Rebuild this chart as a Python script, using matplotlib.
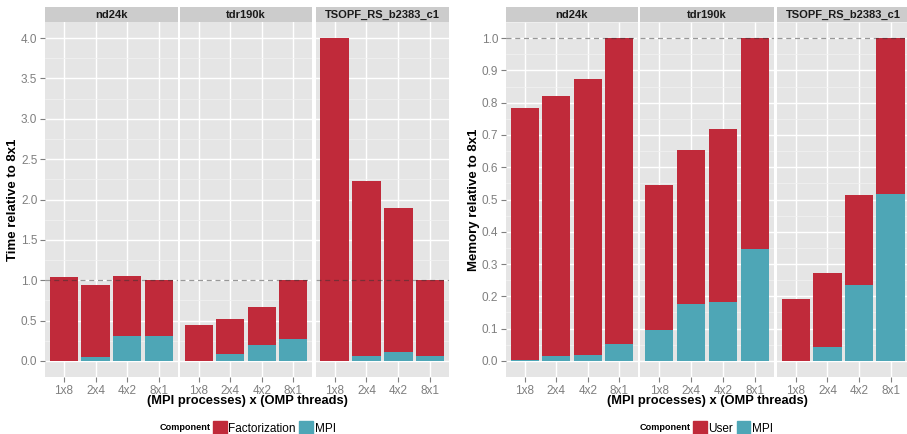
import matplotlib
matplotlib.use("Agg")
import matplotlib.pyplot as plt
from matplotlib.patches import Patch
from matplotlib.ticker import MultipleLocator

plt.rcParams["font.family"] = ["Liberation Sans", "DejaVu Sans"]

# data, one inner list per matrix, bar order = configs
configs = ["1x8", "2x4", "4x2", "8x1"]
matrices = ["nd24k", "tdr190k", "TSOPF_RS_b2383_c1"]

time_mpi = [[0.0, 0.046, 0.31, 0.31],
            [0.0, 0.083, 0.195, 0.27],
            [0.0, 0.058, 0.108, 0.058]]
time_total = [[1.04, 0.94, 1.05, 1.0],
              [0.443, 0.517, 0.666, 1.0],
              [4.0, 2.23, 1.895, 1.0]]

mem_mpi = [[0.002, 0.0146, 0.0177, 0.052],
           [0.095, 0.175, 0.182, 0.346],
           [0.0, 0.042, 0.234, 0.517]]
mem_total = [[0.782, 0.82, 0.872, 1.0],
             [0.544, 0.652, 0.717, 1.0],
             [0.191, 0.271, 0.513, 1.0]]

RED = "#C02A3A"
TEAL = "#4EA6B6"
W, H = 907, 434

fig = plt.figure(figsize=(W / 100, H / 100), dpi=100)


def px_axes(x0, x1, y0, y1):
    return fig.add_axes([x0 / W, 1 - y1 / H, (x1 - x0) / W, (y1 - y0) / H])


def facet_plot(xspans, mpi, total, ylim, major, minor, ylabel, top_label,
               legend_x, ylabel_x):
    panel_top, panel_bot, strip_top = 22, 377, 7
    for i, (x0, x1) in enumerate(xspans):
        ax = px_axes(x0, x1, panel_top, panel_bot)
        ax.set_facecolor("#E5E5E5")
        for s in ax.spines.values():
            s.set_visible(False)
        xs = range(len(configs))
        other = [t - m for t, m in zip(total[i], mpi[i])]
        ax.bar(xs, mpi[i], width=0.9, color=TEAL, zorder=3)
        ax.bar(xs, other, bottom=mpi[i], width=0.9, color=RED, zorder=3)
        ax.axhline(1.0, ls=(0, (4, 3)), color="#333333", alpha=0.5, lw=0.9, zorder=4)
        ax.set_xlim(-0.6, 3.6)
        ax.set_ylim(*ylim)
        ax.set_xticks(list(xs))
        ax.set_xticklabels(configs)
        ax.yaxis.set_major_locator(MultipleLocator(major))
        ax.yaxis.set_minor_locator(MultipleLocator(minor))
        ax.grid(which="major", color="white", lw=1.0, zorder=0)
        ax.grid(which="minor", axis="y", color="#F2F2F2", lw=0.5, zorder=0)
        ax.set_axisbelow(True)
        ax.tick_params(axis="both", which="major", colors="#7F7F7F", labelsize=8.5,
                       length=3.5, width=0.8, pad=2)
        ax.tick_params(axis="y", which="minor", length=0)
        if i == 0:
            ax.yaxis.set_major_formatter(plt.FuncFormatter(lambda v, p: f"{v:.1f}"))
        else:
            ax.tick_params(axis="y", which="both", left=False, labelleft=False)
        # strip
        st = px_axes(x0, x1, strip_top, panel_top)
        st.set_facecolor("#CCCCCC")
        st.set_xticks([])
        st.set_yticks([])
        for s in st.spines.values():
            s.set_visible(False)
        st.text(0.5, 0.45, matrices[i], ha="center", va="center", fontsize=8,
                fontweight="bold", color="#1A1A1A", transform=st.transAxes)

    cx = (xspans[0][0] + xspans[-1][1]) / 2
    fig.text(ylabel_x / W, 1 - 199.5 / H, ylabel, rotation=90, ha="center",
             va="center", fontsize=9.5, fontweight="bold")
    fig.text(cx / W, 1 - 401 / H, "(MPI processes) x (OMP threads)", ha="center",
             va="center", fontsize=9.3, fontweight="bold")
    fig.text(legend_x / W, 1 - 428 / H, "Component", ha="left", va="center",
             fontsize=6.6, fontweight="bold")
    handles = [Patch(color=RED, label=top_label), Patch(color=TEAL, label="MPI")]
    fig.legend(handles=handles, ncol=2, loc="center left",
               bbox_to_anchor=((legend_x + 53) / W, 1 - 428 / H), frameon=False,
               fontsize=8.5, handlelength=1.15, handleheight=1.2, handletextpad=0.15,
               columnspacing=0.3, borderpad=0, borderaxespad=0)


facet_plot([(45, 177.7), (180, 312), (315.7, 449)], time_mpi, time_total,
           (-0.2, 4.2), 0.5, 0.25, "Time relative to 8x1", "Factorization", 160, 13)
facet_plot([(506, 638), (640, 774), (777, 909.5)], mem_mpi, mem_total,
           (-0.05, 1.05), 0.1, 0.05, "Memory relative to 8x1", "User", 640, 474)

fig.savefig("out.png", dpi=100)
